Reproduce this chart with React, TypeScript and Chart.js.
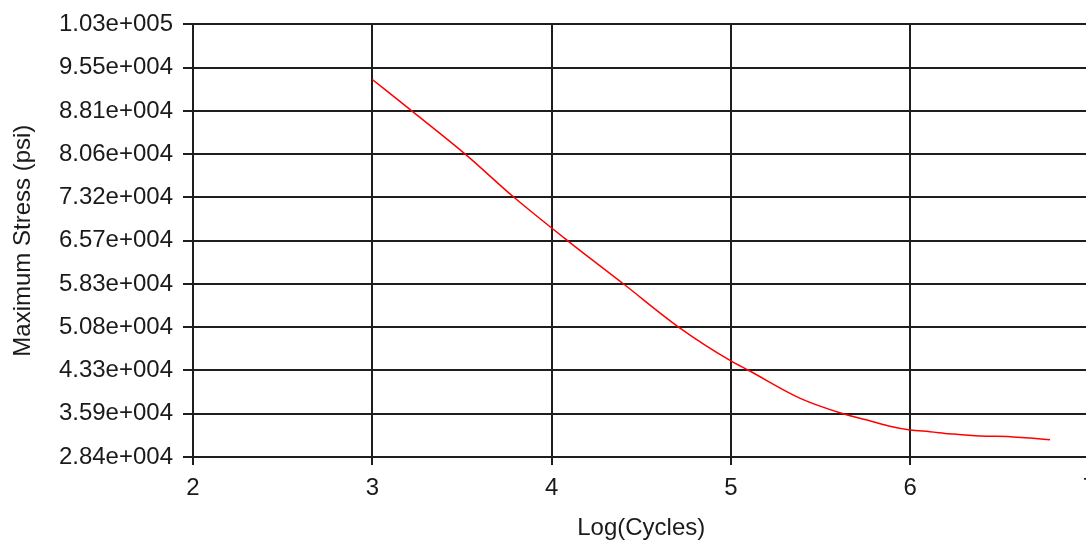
import React, { useEffect, useRef } from "react";
import { Chart, registerables } from "chart.js";

Chart.register(...registerables);

// Data
const logCycles = [3.0, 3.22, 3.52, 3.79, 4.09, 4.4, 4.71, 5.0, 5.1, 5.39, 5.63, 5.76, 5.88, 6.0, 6.11, 6.22, 6.39, 6.56, 6.67, 6.78];
const maxStress = [93500, 88100, 80600, 73200, 65700, 58300, 50800, 45000, 43350, 38500, 35850, 34800, 33800, 33100, 32800, 32450, 32050, 31950, 31700, 31400];

const yMin = 28440;
const yMax = 103000;
const yTickLabels = [
  "2.84e+004", "3.59e+004", "4.33e+004", "5.08e+004", "5.83e+004", "6.57e+004",
  "7.32e+004", "8.06e+004", "8.81e+004", "9.55e+004", "1.03e+005",
];
const xMin = 2;
const xMax = 7;
const xTickLabels = ["2", "3", "4", "5", "6", "7"];

const xTitle = "Log(Cycles)";
const yTitle = "Maximum Stress (psi)";

const FONT = "'Liberation Sans', Arial, Helvetica, sans-serif";
const TEXT = "#1a1a1a";
const GRID = "#1e1e1e";

export default function App() {
  const ref = useRef<HTMLCanvasElement | null>(null);

  useEffect(() => {
    if (!ref.current) return;
    const points = logCycles.map((x, i) => ({ x, y: maxStress[i] }));
    const yTickValues = yTickLabels.map((_, i) => yMin + (i * (yMax - yMin)) / (yTickLabels.length - 1));
    const chart = new Chart(ref.current, {
      type: "line",
      data: {
        datasets: [
          {
            data: points,
            borderColor: "#ff0000",
            borderWidth: 1.5,
            pointRadius: 0,
            fill: false,
            cubicInterpolationMode: "monotone",
          },
        ],
      },
      options: {
        animation: false,
        responsive: false,
        maintainAspectRatio: false,
        layout: { padding: { left: 0, right: 10.5, top: 23, bottom: 0 } },
        plugins: { legend: { display: false }, tooltip: { enabled: false } },
        scales: {
          x: {
            type: "linear",
            min: xMin,
            max: xMax,
            afterBuildTicks: (scale: any) => {
              scale.ticks = xTickLabels.map((_, i) => ({ value: xMin + i }));
            },
            afterFit: (scale: any) => {
              scale.height = 87;
              scale.paddingLeft = 0;
              scale.paddingRight = 0;
            },
            ticks: {
              callback: (_v: any, i: number) => xTickLabels[i],
              font: { family: FONT, size: 24 },
              color: TEXT,
              padding: 9,
              maxRotation: 0,
              autoSkip: false,
            },
            grid: { color: GRID, lineWidth: 2, tickLength: 8, drawTicks: true },
            border: { color: GRID, width: 2 },
            title: {
              display: true,
              text: xTitle,
              font: { family: FONT, size: 24 },
              color: TEXT,
              padding: { top: 0, bottom: 1 },
            },
          },
          y: {
            type: "linear",
            min: yMin,
            max: yMax,
            afterBuildTicks: (scale: any) => {
              scale.ticks = yTickValues.map((v) => ({ value: v }));
            },
            afterFit: (scale: any) => {
              scale.width = 193;
            },
            ticks: {
              callback: (_v: any, i: number) => yTickLabels[i],
              font: { family: FONT, size: 24 },
              color: TEXT,
              padding: 10,
              autoSkip: false,
            },
            grid: { color: GRID, lineWidth: 2, tickLength: 10, drawTicks: true },
            border: { color: GRID, width: 2 },
            title: {
              display: true,
              text: yTitle,
              font: { family: FONT, size: 24 },
              color: TEXT,
              padding: { top: 9, bottom: 0 },
            },
          },
        },
      },
    });
    return () => chart.destroy();
  }, []);

  return (
    <div
      style={{
        position: "fixed",
        left: 0,
        top: 0,
        width: 1086,
        height: 544,
        overflow: "hidden",
        background: "#ffffff",
      }}
    >
      <canvas ref={ref} width={1100} height={544} style={{ width: 1100, height: 544, display: "block" }} />
    </div>
  );
}
